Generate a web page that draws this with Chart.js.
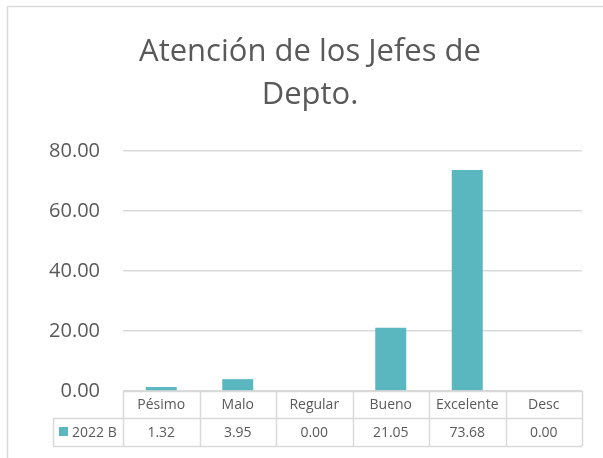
<!DOCTYPE html>
<html lang="es">
<head>
  <meta charset="UTF-8" />
  <title>Atención de los Jefes de Depto.</title>
  <script src="https://cdn.jsdelivr.net/npm/chart.js"></script>
  <style>
    body { margin: 0; background: #fff; }
    #wrap { width: 603px; height: 458px; }
  </style>
</head>
<body>
  <div id="wrap"><canvas id="deptoChart" width="603" height="458"></canvas></div>

  <script>
    const categories = ['Pésimo', 'Malo', 'Regular', 'Bueno', 'Excelente', 'Desc'];
    const seriesName = '2022 B';
    const values = [1.32, 3.95, 0.00, 21.05, 73.68, 0.00];
    const yTicks = [0, 20, 40, 60, 80];

    const barColor = '#5AB6BF';
    const lineColor = '#D9D9D9';
    const textColor = '#595959';

    // frame round the chart + data table under the plot
    const tablePlugin = {
      id: 'dataTable',
      beforeDraw(chart) {
        const ctx = chart.ctx;
        ctx.save();
        ctx.fillStyle = '#fff';
        ctx.fillRect(0, 0, chart.width, chart.height);
        ctx.strokeStyle = lineColor;
        ctx.lineWidth = 1.5;
        ctx.beginPath();
        ctx.moveTo(7.5, chart.height);
        ctx.lineTo(7.5, 6.5);
        ctx.lineTo(chart.width, 6.5);
        ctx.stroke();
        ctx.restore();
      },
      afterDraw(chart) {
        const ctx = chart.ctx;
        const area = chart.chartArea;
        const x = chart.scales.x;
        const colW = (area.right - area.left) / categories.length;
        const top = area.bottom;
        const mid = top + 27;
        const bot = top + 55;
        const legLeft = 53;

        ctx.save();
        ctx.strokeStyle = lineColor;
        ctx.lineWidth = 1.5;
        ctx.beginPath();
        ctx.moveTo(area.left, top + 0.5); ctx.lineTo(area.right, top + 0.5);
        ctx.moveTo(legLeft, mid + 0.5); ctx.lineTo(area.right, mid + 0.5);
        ctx.moveTo(legLeft, bot + 0.5); ctx.lineTo(area.right, bot + 0.5);
        ctx.moveTo(legLeft + 0.5, mid); ctx.lineTo(legLeft + 0.5, bot);
        for (let i = 0; i <= categories.length; i++) {
          const cx = Math.round(area.left + i * colW) + 0.5;
          ctx.moveTo(cx, top); ctx.lineTo(cx, bot);
        }
        ctx.stroke();

        ctx.font = '14px "Open Sans"';
        ctx.fillStyle = textColor;
        ctx.textAlign = 'center';
        ctx.textBaseline = 'middle';
        categories.forEach((c, i) => {
          const cx = x.getPixelForValue(i);
          ctx.fillText(c, cx, (top + mid) / 2 + 1);
          ctx.fillText(values[i].toFixed(2), cx, (mid + bot) / 2 + 1);
        });

        // legend key
        ctx.fillStyle = barColor;
        ctx.fillRect(59, mid + 9, 9, 9);
        ctx.fillStyle = textColor;
        ctx.textAlign = 'left';
        ctx.fillText(seriesName, 72, (mid + bot) / 2 + 1);
        ctx.restore();
      }
    };

    new Chart(document.getElementById('deptoChart'), {
      type: 'bar',
      data: {
        labels: categories,
        datasets: [{
          label: seriesName,
          data: values,
          backgroundColor: barColor,
          categoryPercentage: 1,
          barPercentage: 0.405
        }]
      },
      options: {
        responsive: false,
        animation: false,
        layout: { padding: { left: 38, right: 21, top: 0, bottom: 67 } },
        plugins: {
          legend: { display: false },
          tooltip: { enabled: false },
          title: {
            display: true,
            text: ['Atención de los Jefes de', 'Depto.'],
            color: textColor,
            font: { family: 'Open Sans', size: 31, weight: 'normal', lineHeight: 1.387 },
            padding: { top: 31, bottom: 34 }
          }
        },
        scales: {
          x: { display: false },
          y: {
            min: yTicks[0],
            max: yTicks[yTicks.length - 1],
            afterBuildTicks(scale) {
              scale.ticks = yTicks.map(v => ({ value: v }));
            },
            afterFit(scale) { scale.width = 85; },
            border: { display: false },
            grid: { color: lineColor, lineWidth: 1.5, drawTicks: false },
            ticks: {
              padding: 23,
              color: textColor,
              font: { family: 'Open Sans', size: 20 },
              callback: v => Number(v).toFixed(2)
            }
          }
        }
      },
      plugins: [tablePlugin]
    });
  </script>
</body>
</html>
